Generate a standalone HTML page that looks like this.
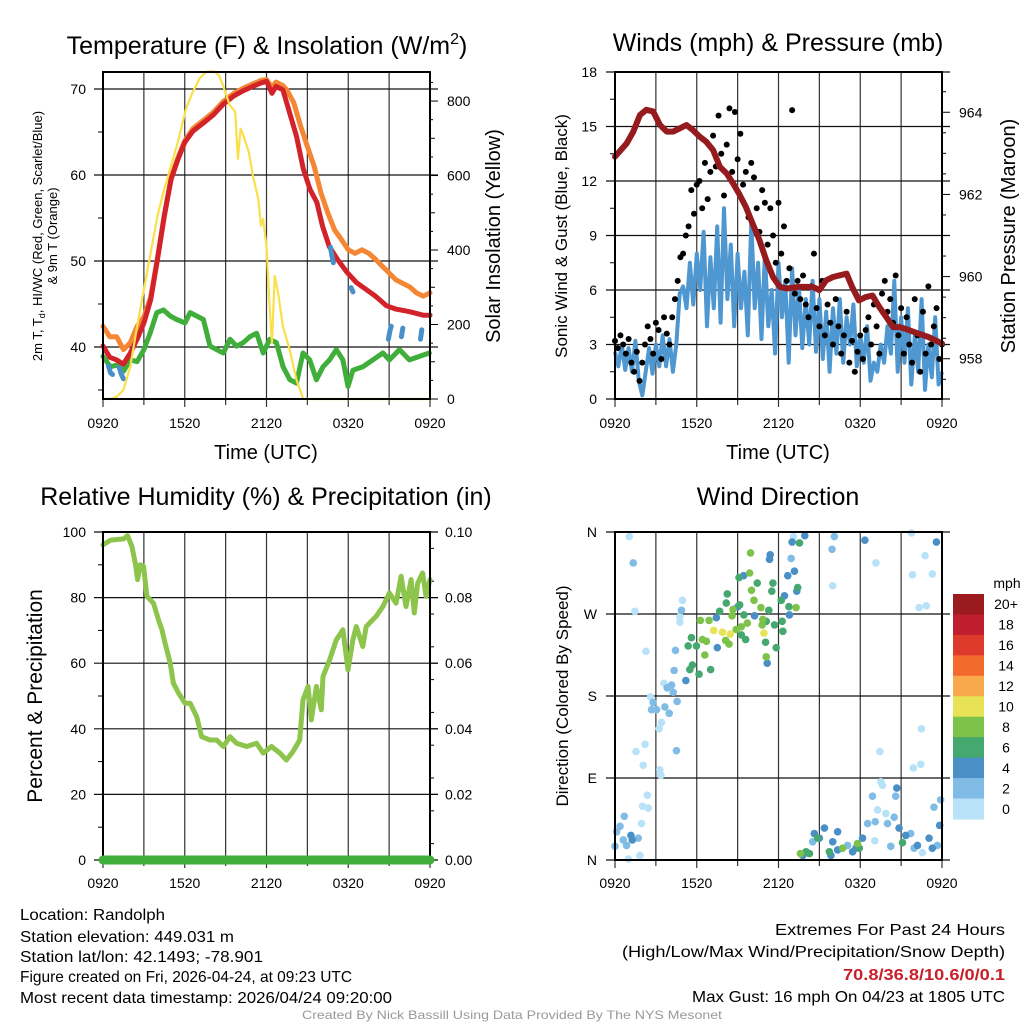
<!DOCTYPE html>
<html><head><meta charset="utf-8">
<style>
html,body{margin:0;padding:0;background:#fff;}
svg{display:block;font-family:"Liberation Sans",Arial,sans-serif;}
</style></head>
<body>
<svg id="chart" width="1024" height="1024" viewBox="0 0 1024 1024" xmlns="http://www.w3.org/2000/svg">
<rect width="1024" height="1024" fill="#fff"/>
<g id="g1"></g>
<g id="g2"></g>
<g id="g3"></g>
<g id="g4"></g>
<g font-size="25" text-anchor="middle" fill="#000">
<text x="267" y="54">Temperature (F) &amp; Insolation (W/m<tspan dy="-10" font-size="16">2</tspan><tspan dy="10">)</tspan></text>
<text x="778" y="51">Winds (mph) &amp; Pressure (mb)</text>
<text x="266" y="505">Relative Humidity (%) &amp; Precipitation (in)</text>
<text x="778" y="505">Wind Direction</text>
</g>
<g fill="#000" text-anchor="middle">
<text x="266" y="459" font-size="20">Time (UTC)</text>
<text x="778" y="459" font-size="20">Time (UTC)</text>
<text transform="translate(42,236) rotate(-90)" font-size="13">2m T, T<tspan dy="3" font-size="9">d</tspan><tspan dy="-3">, HI/WC (Red, Green, Scarlet/Blue)</tspan></text>
<text transform="translate(57,236) rotate(-90)" font-size="13">&amp; 9m T (Orange)</text>
<text transform="translate(500,236) rotate(-90)" font-size="20">Solar Insolation (Yellow)</text>
<text transform="translate(567,236) rotate(-90)" font-size="17">Sonic Wind &amp; Gust (Blue, Black)</text>
<text transform="translate(1015,236) rotate(-90)" font-size="20">Station Pressure (Maroon)</text>
<text transform="translate(42,696) rotate(-90)" font-size="21">Percent &amp; Precipitation</text>
<text transform="translate(568,696) rotate(-90)" font-size="17">Direction (Colored By Speed)</text>
</g>
<g font-size="16" fill="#000">
<text x="20" y="920" textLength="145" lengthAdjust="spacingAndGlyphs">Location: Randolph</text>
<text x="20" y="942" textLength="214" lengthAdjust="spacingAndGlyphs">Station elevation: 449.031 m</text>
<text x="20" y="962" textLength="243" lengthAdjust="spacingAndGlyphs">Station lat/lon: 42.1493; -78.901</text>
<text x="20" y="982" textLength="332" lengthAdjust="spacingAndGlyphs">Figure created on Fri, 2026-04-24, at 09:23 UTC</text>
<text x="20" y="1003" textLength="372" lengthAdjust="spacingAndGlyphs">Most recent data timestamp: 2026/04/24 09:20:00</text>
</g>
<g font-size="16" fill="#000">
<text x="775" y="935" textLength="230" lengthAdjust="spacingAndGlyphs">Extremes For Past 24 Hours</text>
<text x="622" y="957" textLength="383" lengthAdjust="spacingAndGlyphs">(High/Low/Max Wind/Precipitation/Snow Depth)</text>
<text x="843" y="980" textLength="162" lengthAdjust="spacingAndGlyphs" fill="#c8202a" font-weight="bold">70.8/36.8/10.6/0/0.1</text>
<text x="692" y="1002" textLength="313" lengthAdjust="spacingAndGlyphs">Max Gust: 16 mph On 04/23 at 1805 UTC</text>
</g>
<text x="302" y="1019" font-size="12" fill="#999" textLength="420" lengthAdjust="spacingAndGlyphs">Created By Nick Bassill Using Data Provided By The NYS Mesonet</text>
</svg>
<script>
// ---------- data ----------
const xTickLabels = ["0920","1520","2120","0320","0920"];
const tempTicks = [40,50,60,70];
const solarTicks = [0,200,400,600,800];
const windTicks = [0,3,6,9,12,15,18];
const presTicks = [958,960,962,964];
const rhTicks = [0,20,40,60,80,100];
const precipTicks = ["0.00","0.02","0.04","0.06","0.08","0.10"];
const dirTicks = ["N","E","S","W","N"];
const speedBins = ["0","2","4","6","8","10","12","14","16","18","20+"];

const redTimes = [0,0.5,1,1.5,2,2.5,3,3.5,4,4.5,5,5.5,6,6.6,7.4,8.1,8.8,9.6,10.3,11,11.6,12,12.4,12.7,13.2,13.7,14.2,14.7,15.2,15.7,16.1,16.6,17.2,17.9,18.6,19.3,20,20.8,21.5,22.5,23.5,24];
const redVals = [40.1,38.8,38.5,38.0,39.3,40.9,42.8,45.5,50.2,55.2,59.5,61.8,63.8,65.1,66.1,67.0,68.2,69.2,69.8,70.3,70.7,70.9,69.5,70.3,69.9,67.2,64.5,60.7,58.3,56.8,54.1,51.7,50.2,48.7,47.5,46.7,45.9,44.8,44.4,44.1,43.7,43.7];
const orangeTimes = [0,0.5,1,1.5,2,2.5,3,3.5,4,4.5,5,5.5,6,6.6,7.4,8.1,8.8,9.6,10.3,11,11.6,12,12.4,12.7,13.2,13.5,14,14.5,15,15.5,16,16.5,17,17.5,18,18.5,19,19.5,20,20.5,21,21.5,22,22.5,23,23.5,24];
const orangeVals = [42.4,41.2,41.2,39.7,40.5,42.4,43.5,45.8,50.4,55.4,59.7,62.0,64.0,65.4,66.4,67.3,68.5,69.5,70.1,70.6,71.0,71.1,70.2,70.8,70.4,69.9,68.4,65.7,63.3,61.0,57.9,55.6,53.6,52.5,51.3,50.9,51.3,50.9,50.2,49.4,48.6,47.8,47.4,47.0,46.3,45.9,46.3];
const greenTimes = [0,0.54,1.02,1.51,2,2.5,3.0,3.46,3.95,4.44,4.93,5.41,6.02,6.39,7.37,7.85,8.34,8.83,9.32,9.8,10.29,10.78,11.27,11.76,12.24,12.73,13.22,13.71,14.2,14.68,15.17,15.66,16.15,16.63,17.12,17.61,17.98,18.34,19.07,19.8,20.54,21.02,21.76,22.49,23.22,23.95];
const greenVals = [38.9,37.7,37.9,37.2,38.5,38.3,39.7,41.6,44.0,44.3,43.6,43.2,42.8,44.0,43.2,40.1,39.7,39.3,40.9,40.1,40.5,41.2,41.6,39.3,40.9,40.5,37.7,36.2,35.8,39.3,38.5,36.2,37.7,38.5,39.7,38.5,35.4,37.3,37.7,38.5,39.3,38.5,39.7,38.5,38.9,39.3];
const blueTimes = [0.4,0.55,0.7,null,1.2,1.35,1.5,null,16.7,16.8,16.9,null,18.2,18.35,null,20.95,21.05,21.15,null,21.9,22.0,null,23.3,23.4];
const blueVals = [37.8,37.0,36.8,null,37.6,36.8,36.3,null,51.6,50.6,49.8,null,46.9,46.4,null,40.9,41.8,42.4,null,41.2,42.2,null,40.9,42.0];
const solarTimes = [0,0.5,1,1.5,2,2.5,3,3.5,4,4.5,5,5.5,6.1,6.6,7.1,7.6,8.1,8.5,8.8,9.3,9.7,9.9,10.1,10.3,10.7,11,11.4,11.6,11.75,12,12.2,12.4,12.6,12.85,13.2,13.7,14.2,14.7,24];
const solarVals = [0,0,6,24,87,195,294,393,492,564,627,690,780,825,861,879,880,870,843,789,771,645,726,708,663,600,537,465,483,411,267,150,330,285,195,132,51,0,0];

const windVals = [2.6,1.8,3.0,1.6,2.8,1.5,3.2,1.0,0.2,1.5,2.8,1.4,3.0,1.8,3.5,1.8,3.3,1.5,3.0,5.8,6.2,5.0,7.5,5.2,8.0,6.0,9.2,4.0,7.8,5.0,9.5,4.2,10.5,5.5,8.5,4.0,8.0,5.0,7.0,3.5,9.8,5.0,7.5,3.3,8.0,4.0,6.0,2.5,7.5,4.5,6.5,2.0,7.2,3.5,6.2,2.8,5.5,3.0,6.5,2.6,5.5,2.2,4.8,1.5,5.0,2.5,5.5,2.0,4.5,3.0,5.2,1.8,3.5,2.0,4.0,1.0,2.0,1.5,3.0,2.0,4.0,2.5,6.5,1.5,4.5,2.0,5.0,0.8,3.5,1.5,5.5,0.5,3.0,1.2,4.5,0.8,1.5];
const gustVals = [3.2,2.8,3.5,3.0,2.5,3.3,2.0,1.5,2.6,1.0,2.0,
3.0,4.0,3.3,2.5,4.2,3.8,2.2,4.5,3.6,3.0,
4.5,5.5,6.5,7.8,8.0,9.0,9.5,11.5,10.2,11.8,
12.0,10.5,13.0,11.0,12.5,14.5,12.8,15.6,13.5,11.2,
14.0,16.0,12.5,15.8,13.2,14.6,11.8,12.5,10.0,13.0,
12.2,10.5,9.2,11.5,10.8,8.5,10.5,9.0,7.5,10.8,
8.0,9.5,6.5,7.2,15.9,5.8,6.5,5.5,6.8,5.2,
4.5,6.2,8.0,5.0,4.0,6.5,3.5,5.2,4.2,3.0,
5.5,4.0,2.5,3.5,4.8,2.0,3.2,1.5,2.6,3.5,
2.2,3.8,4.5,3.0,5.2,4.0,2.5,5.8,6.5,4.8,
5.5,4.2,6.8,3.5,5.0,2.5,4.5,3.0,2.0,5.5,
3.5,1.5,4.8,2.5,6.2,3.0,4.0,5.0,2.2,3.0];
const presTimes = [0,0.85,1.34,1.83,2.3,2.8,3.3,3.8,4.27,4.76,5.24,5.7,6.2,6.7,7.2,7.7,8.2,8.66,9.1,9.6,10.1,10.6,11.1,11.6,12.1,12.6,13.5,14.5,15,15.5,16,16.5,17,17.4,17.9,18.4,18.9,19.4,19.9,20.4,20.9,21.3,22.3,23,24];
const presVals = [962.92,963.24,963.53,963.93,964.06,964.02,963.69,963.53,963.53,963.61,963.69,963.57,963.41,963.28,963.08,962.67,962.51,962.27,962.02,961.70,961.29,960.89,960.40,959.99,959.75,959.71,959.75,959.75,959.67,959.91,959.99,960.03,960.07,959.75,959.42,959.50,959.54,959.26,959.02,958.77,958.77,958.73,958.61,958.53,958.37];

const rhTimes = [0,0.54,1.02,1.51,1.8,2.12,2.37,2.54,2.73,2.98,3.22,3.71,4.07,4.32,4.56,4.93,5.17,5.54,6.02,6.39,6.88,7.24,7.85,8.34,8.83,9.32,9.8,10.54,11.27,11.76,12.37,12.98,13.46,13.95,14.44,14.68,15.05,15.29,15.66,16.02,16.15,16.63,17.12,17.61,17.98,18.34,18.59,19.07,19.32,20.05,20.54,21.02,21.51,21.88,22.24,22.61,22.85,23.1,23.46,23.71,24];
const rhVals = [96.1,97.5,97.7,97.9,98.9,95.6,90.5,85.5,90.0,89.5,80.4,78.3,73.2,70.2,66.1,60.0,53.9,50.9,47.8,47.8,43.7,37.6,36.6,36.6,34.6,37.6,35.6,34.6,35.6,32.6,34.6,32.6,30.5,33.1,36.6,48.8,52.9,42.7,52.9,45.8,55.9,61.0,67.1,70.2,58.0,67.1,71.2,65.1,71.2,74.3,77.3,81.4,78.3,86.5,77.3,85.5,75.3,84.4,87.5,80.4,85.5];
const precipTimes = [0,24];
const precipVals = [0,0];

const dirTimes = [1.05,1.46,2.27,4.95,4.76,4.76,1.54,2.07,2.2,3.41,3.24,3.29,3.37,2.61,3.59,0.98,1.83,1.95,2.37,2.02,2.44,15.98,19.15,21.76,22.76,21.83,23.29,22.32,22.85,22.49,19.44,21.9,22.44,19.51,19.63,19.27,19.88,19.07,22.56,13.1,
1.34,4.88,4.44,4.34,3.83,4.15,4.27,4.56,2.8,2.68,3.05,3.66,3.98,4.51,0.37,0.12,0.61,0.85,1.71,0,0.68,16.1,15.93,12.93,18.9,20.6,18.54,19.1,20,20.49,23.41,23.9,21.7,20.24,21.95,23.66,14.51,17.07,
13.93,13,11.39,11.34,13.17,12.68,12.44,13.34,7.44,10.24,12.8,7.51,11.17,5.2,9.44,9.02,18.34,23.59,20.68,23.83,20.85,21.34,23.05,22.2,23.29,14.63,15.37,16.34,15,15.98,16.34,17.68,18.17,17.44,1.17,1.27,15.85,13.78,
9.1,10.44,11.59,11.51,13.41,8.24,8.17,9.15,11.29,12.76,12.2,7.68,9.46,11.1,11.71,12.27,12.32,5.61,5.37,5.98,5.68,5.49,6.17,7.02,9.27,9.59,11.05,11.83,13.54,14.88,14.02,15.73,17.93,21.1,14.27,
9.95,9.88,10.02,10.2,10.71,13.29,6.27,6.9,6.41,6.71,6.59,8.66,8.59,9.71,9.27,8.9,8.12,8.37,10.85,10.8,11.1,13.61,16.71,17.8,
7.24,7.88,8.46,10.93];
const dirVals = [355,273,229,285,267,261,119,104,127,151,144,99,93,179,194,1,5,40,71,59,57,301,326,359,334,313,314,277,279,144,119,101,105,86,82,55,51,21,8,355,
326,274,230,208,189,192,184,174,173,165,165,168,161,120,37,31,22,16,24,15,48,355,341,331,70,70,40,42,40,47,58,66,29,15,13,16,20,16,
356,349,335,330,317,312,290,295,266,268,269,233,216,197,312,278,351,349,79,38,35,27,24,16,13,29,35,31,24,20,11,13,24,9,27,22,5,5,
310,304,304,295,299,292,282,280,274,278,285,273,269,262,258,262,251,244,235,235,214,209,204,209,247,242,239,233,348,24,9,9,13,19,7,
337,315,296,285,277,277,263,263,242,240,225,275,268,260,256,253,241,237,264,258,223,7,13,18,
252,250,248,249];
const dirSpeeds = [].concat(Array(40).fill(1),Array(38).fill(3),Array(38).fill(5),Array(35).fill(7),Array(24).fill(9),Array(4).fill(11));
const speedColors = ["#b8e2f7","#80bce6","#4a8fc6","#45a86f","#7dc24a","#e8e255","#f8a94b","#f26a2c","#de3a2c","#be1e2d","#9b1a1e"];

// ---------- helpers ----------
const NS="http://www.w3.org/2000/svg";
function mk(tag,attrs,parent){const e=document.createElementNS(NS,tag);for(const k in attrs)e.setAttribute(k,attrs[k]);parent.appendChild(e);return e;}
function scale(d0,d1,r0,r1){return v=>r0+(v-d0)*(r1-r0)/(d1-d0);}
function pathFrom(ts,vs,sx,sy){let d="",pen=false;for(let i=0;i<ts.length;i++){if(ts[i]===null||vs[i]===null){pen=false;continue;}d+=(pen?"L":"M")+sx(ts[i]).toFixed(1)+","+sy(vs[i]).toFixed(1);pen=true;}return d;}

function frame(g,L,T,R,B,sx){
  for(let h=0;h<=24;h+=3){
    const l=mk("line",{x1:sx(h),x2:sx(h),y1:T,y2:B+(h%6===0?8:6),stroke:"#333","stroke-width":1.2},g);
    
    
  }
  xTickLabels.forEach((lab,i)=>{
    const t=mk("text",{x:sx(i*6),y:428,"font-size":14,"text-anchor":"middle"},g);
    t.textContent=lab;
    
    
  });
}
function hgrid(g,L,R,y,major){
  const l=mk("line",{x1:major?L-9:L-5,x2:R+8,y1:y,y2:y,stroke:"#111","stroke-width":1.2},g);
  
  
}
function box(g,L,T,R,B){
  const r=mk("rect",{x:L,y:T,width:R-L,height:B-T,fill:"none",stroke:"#000","stroke-width":2},g);
  
  
}
function label(g,x,y,txt,anchor,name){
  const t=mk("text",{x:x,y:y,"font-size":14,"text-anchor":anchor},g);
  t.textContent=txt;
  
  
}
function tick(g,x1,x2,y){const l=mk("line",{x1:x1,x2:x2,y1:y,y2:y,stroke:"#000","stroke-width":1},g);}

// ---------- panel 1 ----------
(function(){
  const g=document.getElementById("g1");
  const L=103,R=430,T=72,B=399;
  const sx=scale(0,24,L,R), sy=scale(33.95,71.98,B,T), ss=scale(0,878,B,T);
  frame(g,L,T,R,B,sx);
  tempTicks.forEach(v=>{hgrid(g,L,R,sy(v),true);label(g,86,sy(v)+5,String(v),"end","y-tick-label-temperature");});
  [35,45,55,65].forEach(v=>tick(g,L-5,L,sy(v)));
  solarTicks.forEach(v=>{tick(g,R,R+8,ss(v));label(g,447,ss(v)+5,String(v),"start","y-tick-label-solar");});
  [100,300,500,700].forEach(v=>tick(g,R,R+5,ss(v)));
  for(let v=50;v<878;v+=100){if(v%100)tick(g,R,R+3,ss(v));}
  const series=[["green-dewpoint-line",greenTimes,greenVals,"#3fae3a",5],["orange-9m-temp-line",orangeTimes,orangeVals,"#f58634",5],["red-2m-temp-line",redTimes,redVals,"#d3232a",5],["blue-windchill-line",blueTimes,blueVals,"#4a90c8",5]];
  series.forEach(s=>{
    const p=mk("path",{d:pathFrom(s[1],s[2],sx,sy),fill:"none",stroke:s[3],"stroke-width":s[4],"stroke-linejoin":"round","stroke-linecap":"round"},g);
    
    
  });
  const sp=mk("path",{d:pathFrom(solarTimes,solarVals,sx,ss),fill:"none",stroke:"#f9e04b","stroke-width":2.2,"stroke-linejoin":"round"},g);
  
  
  box(g,L,T,R,B);
})();

// ---------- panel 2 ----------
(function(){
  const g=document.getElementById("g2");
  const L=615,R=942,T=72,B=399;
  const sx=scale(0,24,L,R), sy=scale(0,18,B,T), sp=scale(957.02,964.98,B,T);
  frame(g,L,T,R,B,sx);
  windTicks.forEach(v=>{hgrid(g,L,R,sy(v),true);label(g,597,sy(v)+5,String(v),"end","y-tick-label-wind");});
  [1.5,4.5,7.5,10.5,13.5,16.5].forEach(v=>tick(g,L-5,L,sy(v)));
  presTicks.forEach(v=>{tick(g,R,R+8,sp(v));label(g,959,sp(v)+5,String(v),"start","y-tick-label-pressure");});
  for(let v=957.5;v<965;v+=0.5){if(v%2)tick(g,R,R+4,sp(v));}
  const wt=windVals.map((v,i)=>i*0.25);
  const wp=mk("path",{d:pathFrom(wt,windVals,sx,sy),fill:"none",stroke:"#4f97d1","stroke-width":4,"stroke-linejoin":"round"},g);
  
  
  gustVals.forEach((v,i)=>{
    const c=mk("circle",{cx:sx(i*0.2),cy:sy(v),r:3,fill:"#000"},g);
    
    
  });
  const pp=mk("path",{d:pathFrom(presTimes,presVals,sx,sp),fill:"none",stroke:"#951b1e","stroke-width":6,"stroke-linejoin":"round","stroke-linecap":"round"},g);
  
  
  box(g,L,T,R,B);
})();

// ---------- panel 3 ----------
(function(){
  const g=document.getElementById("g3");
  const L=103,R=430,T=532,B=860;
  const sx=scale(0,24,L,R), sy=scale(0,100,B,T), sq=scale(0,0.1,B,T);
  frame(g,L,T,R,B,sx);
  g.querySelectorAll("text").forEach(t=>t.setAttribute("y",888));
  rhTicks.forEach(v=>{hgrid(g,L,R,sy(v),true);label(g,86,sy(v)+5,String(v),"end","y-tick-label-humidity");});
  [10,30,50,70,90].forEach(v=>tick(g,L-5,L,sy(v)));
  precipTicks.forEach(v=>{tick(g,R,R+8,sq(+v));label(g,445,sq(+v)+5,v,"start","y-tick-label-precip");});
  for(let v=0.005;v<0.1;v+=0.01)tick(g,R,R+4,sq(v));
  const rp=mk("path",{d:pathFrom(rhTimes,rhVals,sx,sy),fill:"none",stroke:"#8dc44c","stroke-width":5,"stroke-linejoin":"round","stroke-linecap":"round"},g);
  
  
  box(g,L,T,R,B);
  const pr=mk("path",{d:pathFrom(precipTimes,precipVals,sx,sq),fill:"none",stroke:"#3fae3a","stroke-width":9,"stroke-linecap":"round"},g);
  
  
})();

// ---------- panel 4 ----------
(function(){
  const g=document.getElementById("g4");
  const L=615,R=942,T=532,B=860;
  const sx=scale(0,24,L,R), sy=scale(0,360,B,T);
  frame(g,L,T,R,B,sx);
  g.querySelectorAll("text").forEach(t=>t.setAttribute("y",888));
  dirTicks.forEach((v,i)=>{hgrid(g,L,R,sy(i*90),true);label(g,597,sy(i*90)+5,v,"end","y-tick-label-direction");});
  dirVals.forEach((v,i)=>{
    const c=mk("circle",{cx:sx(dirTimes[i]),cy:sy(v),r:3.8,fill:speedColors[Math.min(10,Math.floor(dirSpeeds[i]/2))]},g);
    
    
  });
  box(g,L,T,R,B);
  const cb=mk("g",{},g);
  
  
  const ct=mk("text",{x:1007,y:588,"font-size":14,"text-anchor":"middle"},cb);
  ct.textContent="mph";
  
  
  const n=speedBins.length, top=594, h=(819-594)/n;
  speedBins.forEach((lab,i)=>{
    const idx=n-1-i;
    const r=mk("rect",{x:953,y:top+i*h,width:31,height:h+0.5,fill:speedColors[idx]},cb);
    
    
    const t=mk("text",{x:1006,y:top+i*h+h/2+5,"font-size":14,"text-anchor":"middle"},cb);
    t.textContent=speedBins[idx];
    
    
  });
})();
</script>
</body></html>
